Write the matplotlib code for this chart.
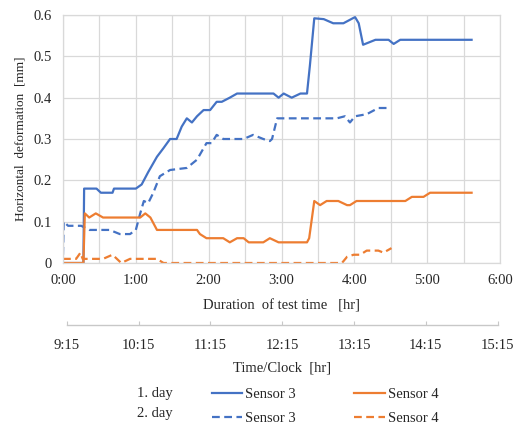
import matplotlib
matplotlib.use("Agg")
import matplotlib.pyplot as plt

plt.rcParams['font.family'] = ['Liberation Serif', 'DejaVu Serif']

# ---- data (time in hours, deformation in mm) ----
s3d1_t = [0, 0.28, 0.29, 0.46, 0.52, 0.68, 0.70, 1.0, 1.08, 1.17, 1.29, 1.38, 1.47, 1.56, 1.63, 1.70,
          1.77, 1.84, 1.93, 2.02, 2.11, 2.18, 2.29, 2.39, 2.71, 2.89, 2.96, 3.03, 3.14, 3.26, 3.35,
          3.39, 3.45, 3.58, 3.71, 3.85, 4.01, 4.06, 4.12, 4.29, 4.47, 4.54, 4.63, 5.61]
s3d1_v = [0, 0, 0.18, 0.18, 0.17, 0.17, 0.18, 0.18, 0.19, 0.22, 0.257, 0.278, 0.30, 0.30, 0.33, 0.35,
          0.34, 0.355, 0.37, 0.37, 0.39, 0.39, 0.40, 0.41, 0.41, 0.41, 0.40, 0.41, 0.40, 0.41, 0.41,
          0.478, 0.592, 0.59, 0.58, 0.58, 0.595, 0.58, 0.528, 0.54, 0.54, 0.53, 0.54, 0.54]

s3d2_t = [0, 0.01, 0.07, 0.25, 0.36, 0.64, 0.78, 0.92, 1.0, 1.06, 1.11, 1.17, 1.24, 1.33, 1.47, 1.70,
          1.84, 1.97, 2.04, 2.11, 2.20, 2.48, 2.61, 2.75, 2.84, 2.87, 2.94, 3.76, 3.87, 3.94, 4.01,
          4.17, 4.33, 4.49]
s3d2_v = [0.02, 0.10, 0.09, 0.09, 0.08, 0.08, 0.07, 0.07, 0.08, 0.12, 0.15, 0.145, 0.17, 0.21, 0.225, 0.23,
          0.25, 0.29, 0.29, 0.31, 0.30, 0.30, 0.31, 0.30, 0.295, 0.30, 0.35, 0.35, 0.355, 0.34, 0.355,
          0.36, 0.375, 0.375]

s4d1_t = [0, 0.28, 0.30, 0.36, 0.45, 0.55, 1.06, 1.13, 1.20, 1.29, 1.38, 1.84, 1.88, 1.97, 2.11, 2.20,
          2.29, 2.39, 2.48, 2.55, 2.75, 2.84, 2.96, 3.35, 3.38, 3.45, 3.53, 3.62, 3.78, 3.90, 3.94,
          4.03, 4.70, 4.79, 4.95, 5.04, 5.61]
s4d1_v = [0, 0, 0.12, 0.11, 0.12, 0.11, 0.11, 0.12, 0.11, 0.08, 0.08, 0.08, 0.07, 0.06, 0.06, 0.06,
          0.05, 0.06, 0.06, 0.05, 0.05, 0.06, 0.05, 0.05, 0.06, 0.15, 0.14, 0.15, 0.15, 0.14, 0.14,
          0.15, 0.15, 0.16, 0.16, 0.17, 0.17]

s4d2_t = [0, 0.18, 0.24, 0.27, 0.55, 0.68, 0.80, 0.92, 1.29, 1.38, 3.83, 3.90, 3.99, 4.08, 4.17, 4.33,
          4.40, 4.51]
s4d2_v = [0.01, 0.01, 0.025, 0.01, 0.01, 0.02, 0, 0.01, 0.01, 0, 0, 0.015, 0.02, 0.02, 0.03, 0.03,
          0.025, 0.036]

x_ticks = [0, 1, 2, 3, 4, 5, 6]
x_labels = ["0:00", "1:00", "2:00", "3:00", "4:00", "5:00", "6:00"]
clock_ticks = [9.25, 10.25, 11.25, 12.25, 13.25, 14.25, 15.25]
clock_labels = ["9:15", "10:15", "11:15", "12:15", "13:15", "14:15", "15:15"]
y_ticks = [0, 0.1, 0.2, 0.3, 0.4, 0.5, 0.6]
y_labels = ["0", "0.1", "0.2", "0.3", "0.4", "0.5", "0.6"]

BLUE = "#4472C4"
ORANGE = "#ED7D31"
GRID = "#D9D9D9"
TXT = "#262626"
FS = 10.5

W, H = 521, 425
fig = plt.figure(figsize=(W / 100, H / 100), dpi=100)
ax = fig.add_axes([63 / W, 1 - 263 / H, (500 - 63) / W, (263 - 15) / H])

lw = 1.6
l1, = ax.plot(s3d1_t, s3d1_v, color=BLUE, lw=lw, label="Sensor 3")
l2, = ax.plot(s3d2_t, s3d2_v, color=BLUE, lw=lw, ls=(0, (3.5, 2)), label="Sensor 3")
l3, = ax.plot(s4d1_t, s4d1_v, color=ORANGE, lw=lw, label="Sensor 4")
l4, = ax.plot(s4d2_t, s4d2_v, color=ORANGE, lw=lw, ls=(0, (3.5, 2)), label="Sensor 4")

ax.set_xlim(0, 6)
ax.set_ylim(0, 0.6)
ax.set_xticks(x_ticks)
ax.set_xticklabels(x_labels)
ax.set_xticks([0.5, 1.5, 2.5, 3.5, 4.5, 5.5], minor=True)
ax.set_yticks(y_ticks)
ax.set_yticklabels(y_labels)
ax.grid(True, which='both', color=GRID, lw=0.9)
ax.set_axisbelow(True)
for s in ax.spines.values():
    s.set_color(GRID)
    s.set_linewidth(0.9)
ax.tick_params(which='both', length=0, labelsize=FS, colors=TXT, pad=8)
ax.set_xlabel("Duration  of test time   [hr]", fontsize=FS, color=TXT, labelpad=9)
ax.set_ylabel("Horizontal  deformation  [mm]", fontsize=9.5, color=TXT, labelpad=5)

# secondary clock axis
ax2 = fig.add_axes([66.7 / W, 1 - 325 / H, (497.7 - 66.7) / W, 0.001])
ax2.set_xlim(9.25, 15.25)
ax2.set_ylim(0, 1)
ax2.set_yticks([])
ax2.set_xticks(clock_ticks)
ax2.set_xticklabels(clock_labels)
for k in ['top', 'left', 'right']:
    ax2.spines[k].set_visible(False)
ax2.spines['bottom'].set_color("#C8C8C8")
ax2.spines['bottom'].set_linewidth(1.0)
ax2.patch.set_visible(False)
ax2.tick_params(axis='x', direction='in', length=3, color="#C8C8C8", labelsize=FS,
                labelcolor=TXT, pad=10)
ax2.set_xlabel("Time/Clock  [hr]", fontsize=FS, color=TXT, labelpad=7)

# legend
fig.legend(handles=[l1, l2, l3, l4], ncol=2, frameon=False, fontsize=FS,
           handlelength=2.1, handletextpad=0.2, columnspacing=4.0, labelspacing=0.75,
           loc='upper left', bbox_to_anchor=(206 / W, 1 - 382 / H), labelcolor=TXT,
           borderaxespad=0)
fig.text(173 / W, 1 - 393 / H, "1. day", ha='right', va='center', fontsize=FS, color=TXT)
fig.text(173 / W, 1 - 413 / H, "2. day", ha='right', va='center', fontsize=FS, color=TXT)

fig.savefig("out.png", dpi=100)
